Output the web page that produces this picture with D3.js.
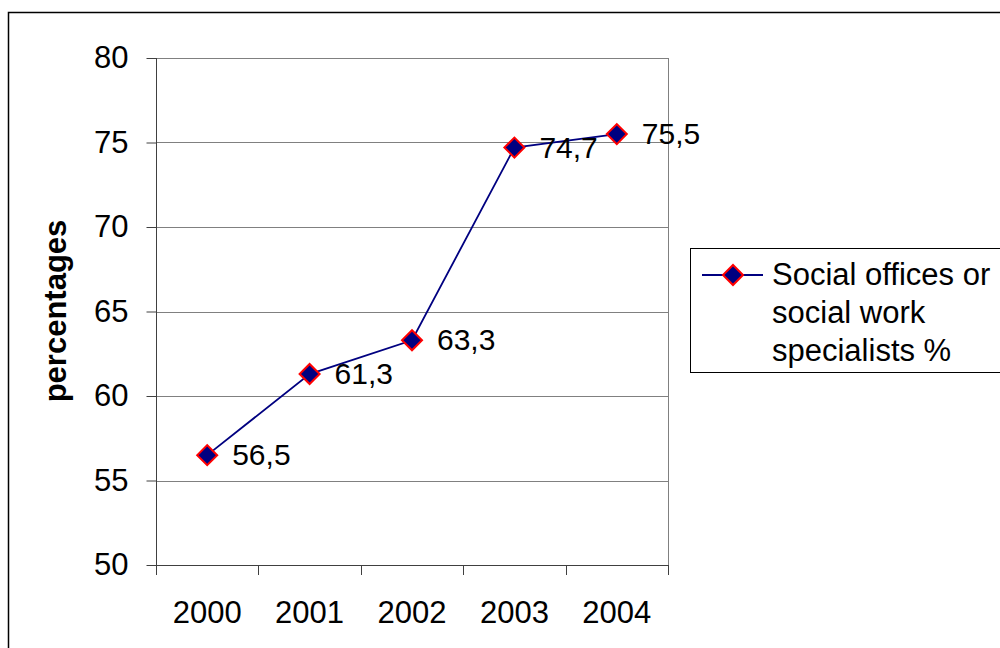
<!DOCTYPE html>
<html>
<head>
<meta charset="utf-8">
<script src="https://cdn.jsdelivr.net/npm/d3@7"></script>
<style>
  html, body { margin: 0; padding: 0; background: #fff; }
  svg { display: block; font-family: "Liberation Sans", Arial, sans-serif; }
</style>
</head>
<body>
<svg id="chart" width="1000" height="648"></svg>
<script>
// Share of units with social offices or social work specialists, by year
const years = ["2000", "2001", "2002", "2003", "2004"];
const values = [56.5, 61.3, 63.3, 74.7, 75.5];
const yTicks = [50, 55, 60, 65, 70, 75, 80];
const seriesName = ["Social offices or", "social work", "specialists %"];
const yTitle = "percentages";

const svg = d3.select("#chart");
const W = 1000, H = 648;
const plot = { left: 156, top: 58, right: 668, bottom: 565 };
const FONT = "Liberation Sans, Arial, sans-serif";

const x = d3.scaleBand().domain(years).range([plot.left, plot.right]).padding(0);
const y = d3.scaleLinear().domain([50, 80]).range([plot.bottom, plot.top]);

// outer frame
svg.append("rect")
  .attr("x", 8.5).attr("y", 12.5)
  .attr("width", W + 20).attr("height", H + 20)
  .attr("fill", "#fff").attr("stroke", "#000").attr("stroke-width", 1.5);

// gridlines
svg.append("g").selectAll("line")
  .data(yTicks.filter(t => t > 50))
  .join("line")
  .attr("x1", plot.left).attr("x2", plot.right)
  .attr("y1", d => Math.round(y(d)) + 0.5).attr("y2", d => Math.round(y(d)) + 0.5)
  .attr("stroke", "#808080").attr("stroke-width", 1);

// plot area right edge
svg.append("line")
  .attr("x1", plot.right + 0.5).attr("x2", plot.right + 0.5)
  .attr("y1", plot.top).attr("y2", plot.bottom)
  .attr("stroke", "#808080").attr("stroke-width", 1);

// y axis
const yAxis = svg.append("g")
  .attr("transform", `translate(${plot.left + 0.5},0)`)
  .call(d3.axisLeft(y).tickValues(yTicks).tickSize(10).tickPadding(18).tickFormat(d3.format("d")));
yAxis.select(".domain").attr("stroke", "#404040").attr("d", `M0,${plot.top}V${plot.bottom}`);
yAxis.selectAll(".tick line").attr("stroke", "#404040");
yAxis.selectAll(".tick text")
  .attr("font-size", 31).attr("fill", "#000").attr("font-family", FONT);

// x axis
const xAxis = svg.append("g")
  .attr("transform", `translate(0,${plot.bottom + 0.5})`)
  .call(d3.axisBottom(x).tickSize(0).tickPadding(35));
xAxis.select(".domain").attr("stroke", "#404040").attr("d", `M${plot.left},0H${plot.right}`);
xAxis.selectAll(".tick text")
  .attr("font-size", 31).attr("fill", "#000").attr("font-family", FONT);
// category boundary ticks
const bounds = years.map(d => x(d)).concat([x(years[years.length - 1]) + x.bandwidth()]);
svg.append("g").selectAll("line")
  .data(bounds)
  .join("line")
  .attr("x1", d => Math.round(d) + 0.5).attr("x2", d => Math.round(d) + 0.5)
  .attr("y1", plot.bottom).attr("y2", plot.bottom + 10)
  .attr("stroke", "#404040");

// y axis title
svg.append("text")
  .attr("transform", `translate(66,311) rotate(-90)`)
  .attr("text-anchor", "middle")
  .attr("font-size", 31).attr("font-weight", "bold").attr("fill", "#000")
  .text(yTitle);

// series line
const cx = d => x(d) + x.bandwidth() / 2;
const line = d3.line().x((d, i) => cx(years[i])).y(d => y(d));
svg.append("path")
  .datum(values)
  .attr("d", line)
  .attr("fill", "none").attr("stroke", "#000080").attr("stroke-width", 1.8);

// diamond markers
const diamond = d3.symbol().type(d3.symbolSquare).size(200);
svg.append("g").selectAll("path")
  .data(values)
  .join("path")
  .attr("d", diamond)
  .attr("transform", (d, i) => `translate(${cx(years[i])},${y(d)}) rotate(45)`)
  .attr("fill", "#000080").attr("stroke", "#ff0000").attr("stroke-width", 2);

// value labels
svg.append("g").selectAll("text")
  .data(values)
  .join("text")
  .attr("x", (d, i) => cx(years[i]) + 25)
  .attr("y", d => y(d) + 10)
  .attr("font-size", 30).attr("fill", "#000")
  .text(d => d3.format(".1f")(d).replace(".", ","));

// legend
const lg = svg.append("g");
lg.append("rect")
  .attr("x", 690.5).attr("y", 248.5)
  .attr("width", 340).attr("height", 124)
  .attr("fill", "#fff").attr("stroke", "#000").attr("stroke-width", 1);
lg.append("line")
  .attr("x1", 702).attr("x2", 763).attr("y1", 275).attr("y2", 275)
  .attr("stroke", "#000080").attr("stroke-width", 1.8);
lg.append("path")
  .attr("d", diamond)
  .attr("transform", "translate(733,275) rotate(45)")
  .attr("fill", "#000080").attr("stroke", "#ff0000").attr("stroke-width", 2);
lg.append("g").selectAll("text")
  .data(seriesName)
  .join("text")
  .attr("x", 772)
  .attr("y", (d, i) => 285 + i * 38)
  .attr("font-size", 31).attr("fill", "#000")
  .text(d => d);
</script>
</body>
</html>
